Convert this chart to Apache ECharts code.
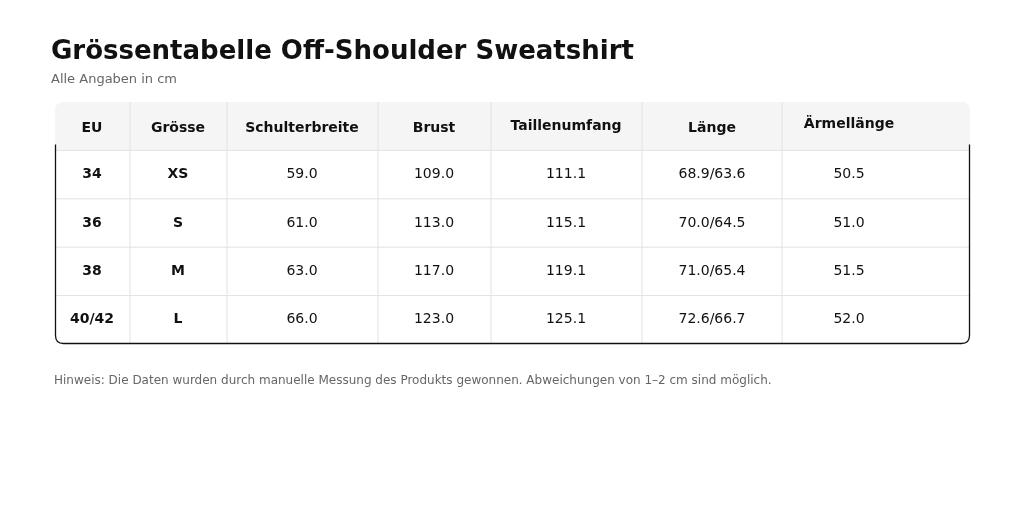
<!DOCTYPE html>
<html><head><meta charset="utf-8">
<script src="https://cdn.jsdelivr.net/npm/echarts@6/dist/echarts.min.js"></script>
<style>html,body{margin:0;background:#fff}#chart{width:1024px;height:517px}</style>
</head><body><div id="chart"></div>
<script>
const headers = ['EU', 'Grösse', 'Schulterbreite', 'Brust', 'Taillenumfang', 'Länge', 'Ärmellänge'];
const euSizes = ['34', '36', '38', '40/42'];
const sizes = ['XS', 'S', 'M', 'L'];
const shoulder = ['59.0', '61.0', '63.0', '66.0'];
const chest = ['109.0', '113.0', '117.0', '123.0'];
const waist = ['111.1', '115.1', '119.1', '125.1'];
const length = ['68.9/63.6', '70.0/64.5', '71.0/65.4', '72.6/66.7'];
const sleeve = ['50.5', '51.0', '51.5', '52.0'];

// column edges in px relative to the table's left side
const edges = [0, 75, 172, 323, 436, 587, 727, 915];
const textX = [37, 123, 247, 379, 511, 657, 794];

const columns = [euSizes, sizes, shoulder, chest, waist, length, sleeve];
const data = [];
headers.forEach((h, c) => data.push([c, 0, h]));
for (let r = 0; r < euSizes.length; r++) {
  columns.forEach((col, c) => data.push([c, r + 1, col[r]]));
}

const FONT = 'DejaVu Sans';
const chart = echarts.init(document.getElementById('chart'));

function renderItem(params, api) {
  const c = api.value(0), r = api.value(1), txt = data[params.dataIndex][2];
  const p0 = api.coord([edges[c], r]);
  const p1 = api.coord([edges[c + 1], r + 1]);
  const children = [];
  if (c === 0 && r === 0) {
    const tl = api.coord([0, 0]), br = api.coord([915, 5]);
    const hb = p1[1];
    children.push({ type: 'rect', shape: { x: tl[0], y: tl[1], width: br[0] - tl[0], height: hb - tl[1], r: [8, 8, 0, 0] },
      style: { fill: '#f5f5f5' } });
    const x1 = tl[0] + 0.5, x2 = br[0] - 0.5, y1 = hb - 6, y2 = br[1] - 0.5;
    children.push({ type: 'path', z2: 10, shape: { pathData: `M ${x1} ${y1} L ${x1} ${y2 - 8} Q ${x1} ${y2} ${x1 + 8} ${y2} L ${x2 - 8} ${y2} Q ${x2} ${y2} ${x2} ${y2 - 8} L ${x2} ${y1}` },
      style: { fill: null, stroke: '#111', lineWidth: 1.3 } });
  }
  if (c < headers.length - 1) {
    children.push({ type: 'line', shape: { x1: p1[0], y1: p0[1], x2: p1[0], y2: p1[1] }, style: { stroke: '#e2e2e2', lineWidth: 1 } });
  }
  if (r < 4) {
    children.push({ type: 'line', shape: { x1: p0[0], y1: p1[1], x2: p1[0], y2: p1[1] }, style: { stroke: '#e2e2e2', lineWidth: 1 } });
  }
  const bold = r === 0 || c < 2;
  const tx = api.coord([textX[c], 0])[0];
  const ty = (p0[1] + p1[1]) / 2 + (r === 0 && c === 6 ? -2 : 0) + (r === 0 && c !== 6 && c !== 4 ? 2 : 0);
  children.push({ type: 'text', z2: 5, style: { text: txt, x: tx, y: ty, align: 'center', verticalAlign: 'middle',
    font: `${bold ? 'bold ' : ''}14px "${FONT}"`, fill: '#111' } });
  return { type: 'group', children };
}

chart.setOption({
  animation: false,
  title: {
    text: 'Grössentabelle Off-Shoulder Sweatshirt',
    subtext: 'Alle Angaben in cm',
    left: 46, top: 34, itemGap: 8,
    textStyle: { fontFamily: FONT, fontSize: 26, fontWeight: 'bold', color: '#111' },
    subtextStyle: { fontFamily: FONT, fontSize: 13, color: '#666' }
  },
  graphic: [{ type: 'text', left: 54, top: 375, style: {
    text: 'Hinweis: Die Daten wurden durch manuelle Messung des Produkts gewonnen. Abweichungen von 1–2 cm sind möglich.',
    font: `12px "${FONT}"`, fill: '#666' } }],
  grid: { left: 55, top: 102, width: 915, height: 242 },
  xAxis: { type: 'value', min: 0, max: 915, show: false },
  yAxis: { type: 'value', min: 0, max: 5, inverse: true, show: false },
  series: [{ type: 'custom', renderItem, data, encode: { x: 0, y: 1 } }]
});
</script></body></html>
